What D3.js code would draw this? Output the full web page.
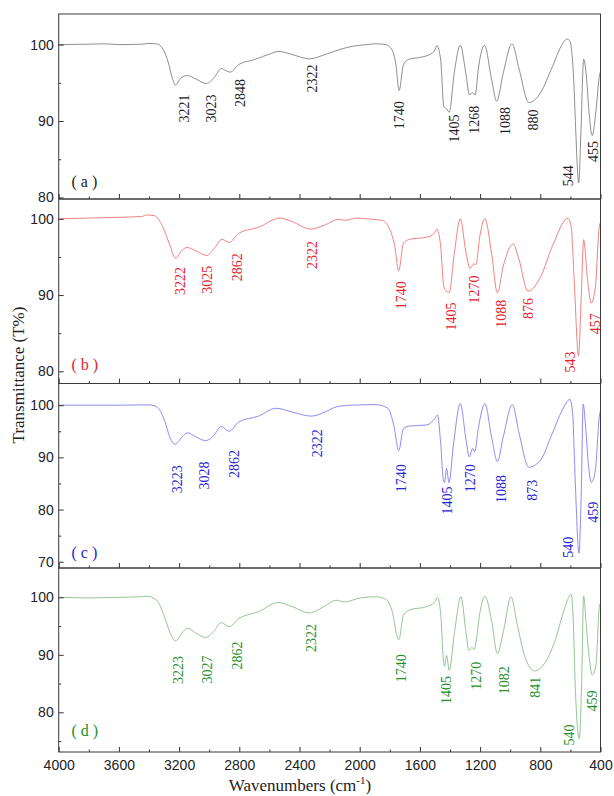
<!DOCTYPE html>
<html>
<head>
<meta charset="utf-8">
<script src="https://cdn.jsdelivr.net/npm/d3@7/dist/d3.min.js"></script>
<style>
  body { margin: 0; background: #fff; }
  svg { display: block; }
</style>
</head>
<body>
<svg id="chart" width="614" height="796"></svg>
<script>
// FTIR spectra, four stacked panels, wavenumber (cm-1) vs transmittance (%)
const spectrumA = [
  [4000, 100.0], [3800, 100.05], [3700, 100.1], [3600, 100.0], [3450, 100.05], [3400, 100.15], [3350, 100.1],
  [3310, 99.5], [3271, 97.6], [3245, 95.6], [3224, 94.7], [3190, 95.6], [3146, 95.95], [3089, 95.5],
  [3019, 94.9], [2964, 95.75], [2920, 96.86], [2890, 96.6], [2860, 96.4], [2803, 97.4], [2698, 98.04],
  [2594, 98.8], [2542, 99.1], [2464, 98.8], [2400, 98.4], [2334, 98.13], [2230, 98.7], [2126, 99.4],
  [2048, 99.78], [1950, 100.0], [1892, 100.1], [1826, 100.0], [1787, 99.35], [1761, 97.6], [1738, 94.0],
  [1709, 97.4], [1670, 98.1], [1579, 98.4], [1527, 98.8], [1500, 99.3], [1488, 99.87], [1462, 98.0],
  [1441, 91.9], [1423, 91.6], [1405, 91.15], [1371, 96.4], [1332, 99.9], [1293, 96.0], [1272, 93.46],
  [1249, 93.7], [1233, 93.4], [1210, 97.1], [1171, 99.9], [1124, 95.5], [1090, 92.6], [1046, 96.3],
  [988, 100.1], [941, 96.8], [876, 92.4], [798, 93.7], [720, 97.1], [655, 100.0], [621, 100.74],
  [603, 100.4], [577, 95.0], [564, 88.5], [545, 81.9], [530, 88.5], [512, 98.1], [494, 95.9],
  [478, 91.6], [455, 88.1], [429, 91.6], [408, 95.8], [400, 96.5]
];
const spectrumB = [
  [4000, 100.0], [3800, 100.1], [3600, 100.2], [3450, 100.3], [3414, 100.5], [3362, 100.4], [3310, 99.0],
  [3266, 96.8], [3224, 94.85], [3180, 95.9], [3146, 96.24], [3089, 95.8], [3016, 95.2], [2964, 96.2],
  [2915, 97.3], [2868, 96.9], [2803, 98.1], [2672, 98.9], [2529, 100.1], [2451, 99.65], [2326, 98.65],
  [2230, 99.2], [2139, 99.95], [2100, 99.8], [2022, 100.1], [1957, 100.0], [1853, 99.8], [1800, 98.6],
  [1767, 96.4], [1741, 93.2], [1709, 96.8], [1670, 97.3], [1553, 97.6], [1501, 98.2], [1488, 98.65],
  [1462, 96.4], [1441, 91.1], [1423, 90.5], [1405, 90.35], [1371, 95.5], [1332, 100.0], [1293, 95.5],
  [1267, 93.5], [1241, 94.1], [1228, 94.0], [1202, 97.7], [1168, 100.0], [1124, 95.5], [1085, 90.3],
  [1046, 93.8], [980, 96.7], [941, 94.6], [882, 90.5], [798, 92.4], [720, 96.4], [616, 100.05],
  [595, 99.0], [575, 92.0], [546, 82.05], [528, 89.8], [512, 97.25], [486, 92.0], [462, 88.95],
  [434, 91.1], [408, 99.0], [400, 99.5]
];
const spectrumC = [
  [4000, 100.0], [3600, 100.0], [3400, 100.05], [3349, 99.7], [3297, 97.1], [3258, 93.6], [3227, 92.5],
  [3180, 93.9], [3146, 94.7], [3089, 93.95], [3024, 93.2], [2972, 94.1], [2920, 95.9], [2868, 95.0],
  [2803, 96.8], [2672, 97.9], [2555, 99.4], [2451, 98.7], [2321, 97.9], [2230, 98.7], [2152, 99.7],
  [2048, 100.0], [1892, 100.1], [1813, 99.4], [1774, 96.2], [1741, 91.3], [1709, 95.5], [1670, 96.0],
  [1553, 96.2], [1501, 97.45], [1483, 98.1], [1462, 92.7], [1444, 85.7], [1436, 85.2], [1423, 87.9],
  [1407, 85.2], [1376, 92.7], [1332, 100.3], [1293, 93.3], [1272, 90.1], [1249, 91.7], [1236, 91.1],
  [1210, 95.9], [1168, 100.3], [1124, 93.95], [1085, 89.2], [1046, 93.95], [986, 100.1], [941, 94.6],
  [876, 88.1], [798, 89.5], [720, 94.6], [655, 99.0], [603, 101.1], [585, 98.4], [569, 86.3],
  [543, 71.65], [528, 83.1], [515, 100.2], [499, 95.9], [481, 88.85], [460, 85.2], [434, 87.6],
  [408, 97.8], [400, 99.0]
];
const spectrumD = [
  [4000, 100.0], [3800, 99.9], [3600, 100.0], [3450, 100.1], [3414, 100.2], [3349, 99.5], [3297, 96.6],
  [3258, 93.7], [3224, 92.4], [3180, 93.8], [3146, 94.6], [3089, 93.8], [3024, 93.0], [2972, 94.0],
  [2920, 95.6], [2868, 94.9], [2803, 96.3], [2672, 97.5], [2542, 99.1], [2451, 98.4], [2334, 97.3],
  [2230, 98.5], [2157, 99.5], [2100, 99.2], [1996, 99.9], [1892, 100.1], [1826, 99.65], [1787, 97.8],
  [1741, 92.6], [1709, 96.9], [1670, 97.8], [1553, 98.4], [1501, 99.2], [1483, 100.0], [1462, 97.2],
  [1444, 89.1], [1436, 88.0], [1423, 89.9], [1405, 87.3], [1371, 93.7], [1327, 100.1], [1293, 93.7],
  [1275, 90.8], [1254, 91.3], [1241, 90.9], [1228, 92.1], [1202, 97.2], [1168, 100.2], [1124, 96.0],
  [1085, 90.2], [1046, 94.0], [994, 100.1], [955, 95.5], [902, 89.65], [837, 87.2], [772, 88.5],
  [694, 93.1], [642, 97.8], [595, 100.5], [583, 97.2], [566, 83.3], [541, 75.4], [526, 84.4],
  [512, 100.2], [494, 94.9], [473, 89.1], [455, 86.5], [429, 88.5], [408, 98.4], [400, 99.0]
];

// peak labels: text, wavenumber of label centre, transmittance at label top
const peaksA = [
  ['3221', 3167, 93.46], ['3023', 2985, 93.46], ['2848', 2797, 95.5], ['2322', 2316, 97.4],
  ['1740', 1735, 92.6], ['1405', 1371, 90.85], ['1268', 1241, 92.0], ['1088', 1033, 91.85],
  ['880', 845, 91.5], ['544', 616, 84.2], ['455', 447, 87.4]
];
const peaksB = [
  ['3222', 3193, 93.67], ['3025', 3011, 93.84], ['2862', 2816, 95.5], ['2322', 2316, 97.1],
  ['1740', 1722, 91.8], ['1405', 1392, 89.04], ['1270', 1241, 92.58], ['1088', 1059, 89.4],
  ['876', 882, 89.6], ['543', 603, 82.6], ['457', 439, 87.6]
];
const peaksC = [
  ['3223', 3214, 88.5], ['3028', 3032, 89.2], ['2862', 2834, 91.4], ['2322', 2282, 95.4],
  ['1740', 1722, 88.7], ['1405', 1418, 84.4], ['1270', 1267, 88.7], ['1088', 1059, 86.6],
  ['873', 856, 85.7], ['540', 616, 74.8], ['459', 447, 81.5]
];
const peaksD = [
  ['3223', 3206, 89.8], ['3027', 3016, 89.9], ['2862', 2816, 92.3], ['2322', 2321, 95.35],
  ['1740', 1722, 90.1], ['1405', 1423, 86.3], ['1270', 1228, 88.8], ['1082', 1038, 88.0],
  ['841', 837, 86.2], ['540', 611, 77.9], ['459', 455, 83.8]
];

const panelNames = ['( a )', '( b )', '( c )', '( d )'];
const panelNameT = [81.4, 80.2, 70.8, 75.8];
const yDomains = [[79.8, 104], [78.4, 102.6], [68.8, 104.15], [73.1, 105.1]];
const yTicks = [[80, 90, 100], [80, 90, 100], [70, 80, 90, 100], [80, 90, 100]];
const yMinorTicks = [[85, 95], [85, 95], [75, 85, 95], [75, 85, 95]];
const xTicks = [4000, 3600, 3200, 2800, 2400, 2000, 1600, 1200, 800, 400];
const xMinorTicks = [3800, 3400, 3000, 2600, 2200, 1800, 1400, 1000, 600];

const spectra = [spectrumA, spectrumB, spectrumC, spectrumD];
const peaks = [peaksA, peaksB, peaksC, peaksD];
const lineColors = ['#7a7a7a', '#f06a6a', '#7777ee', '#82bb82'];
const textColors = ['#222', '#e8202a', '#2424d8', '#23902a'];

const svg = d3.select('#chart');
const left = 58.7; const right = 600.5;
const bounds = [14, 199, 383.5, 568, 752];
const sansFont = '\'Liberation Sans\', Arial, sans-serif';
const serifFont = '\'Liberation Serif\', \'Times New Roman\', serif';

const x = d3.scaleLinear().domain([4000, 400]).range([left, right]);

spectra.forEach((spec, i)=>{
  const top = bounds[i]; const bottom = bounds[i+1];
  const y = d3.scaleLinear().domain(yDomains[i]).range([bottom, top]);
  const g = svg.append('g');

  g.append('clipPath').attr('id', 'clip'+i).append('rect')
      .attr('x', left).attr('y', top).attr('width', right-left).attr('height', bottom-top);

  g.append('path')
      .datum(spec)
      .attr('clip-path', `url(#clip${i})`)
      .attr('d', d3.line().x((d)=>x(d[0])).y((d)=>y(d[1])).curve(d3.curveMonotoneX))
      .style('fill', 'none')
      .style('stroke', lineColors[i])
      .style('stroke-width', 0.85);

  // bottom ticks, labels only on the last panel
  const xAxis = d3.axisBottom(x).tickValues(xTicks).tickSizeInner(-5).tickSizeOuter(0).tickPadding(8)
      .tickFormat(i == 3 ? d3.format('d') : '');
  g.append('g').attr('transform', `translate(0,${bottom})`).call(xAxis);
  g.append('g').attr('transform', `translate(0,${bottom})`)
      .call(d3.axisBottom(x).tickValues(xMinorTicks).tickSizeInner(-2.5).tickSizeOuter(0).tickFormat(''));

  const yAxis = d3.axisLeft(y).tickValues(yTicks[i]).tickSizeInner(-5).tickSizeOuter(0).tickPadding(5);
  g.append('g').attr('transform', `translate(${left},0)`).call(yAxis);
  g.append('g').attr('transform', `translate(${left},0)`)
      .call(d3.axisLeft(y).tickValues(yMinorTicks[i]).tickSizeInner(-2.5).tickSizeOuter(0).tickFormat(''));

  g.selectAll('.domain').remove();
  g.selectAll('.tick line').style('stroke', '#333');
  g.selectAll('.tick text').style('font-family', sansFont).style('font-size', '14px').style('fill', '#222');

  g.append('rect')
      .attr('x', left).attr('y', top).attr('width', right-left).attr('height', bottom-top)
      .style('fill', 'none').style('stroke', '#3a3a3a').style('stroke-width', 1);

  g.selectAll('text.peak')
      .data(peaks[i])
      .enter().append('text')
      .attr('class', 'peak')
      .attr('transform', (d)=>`translate(${x(d[1])},${y(d[2])}) rotate(-90)`)
      .attr('text-anchor', 'end')
      .attr('dy', '0.35em')
      .style('font-family', serifFont)
      .style('font-size', '14px')
      .style('fill', textColors[i])
      .text((d)=>d[0]);

  g.append('text')
      .attr('x', x(3915))
      .attr('y', y(panelNameT[i]))
      .style('font-family', serifFont)
      .style('font-size', '16px')
      .style('fill', textColors[i])
      .style('white-space', 'pre')
      .text(panelNames[i]);
});

svg.append('text')
    .attr('transform', 'translate(18,375) rotate(-90)')
    .attr('text-anchor', 'middle')
    .attr('dy', '0.35em')
    .style('font-family', serifFont)
    .style('font-size', '17px')
    .style('fill', '#222')
    .text('Transmittance (T%)');

const xt = svg.append('text')
    .attr('x', 300)
    .attr('y', 791)
    .attr('text-anchor', 'middle')
    .style('font-family', serifFont)
    .style('font-size', '17px')
    .style('fill', '#222');
xt.append('tspan').text('Wavenumbers (cm');
xt.append('tspan').attr('dy', -7).style('font-size', '11px').text('-1');
xt.append('tspan').attr('dy', 7).text(')');
</script>
</body>
</html>
